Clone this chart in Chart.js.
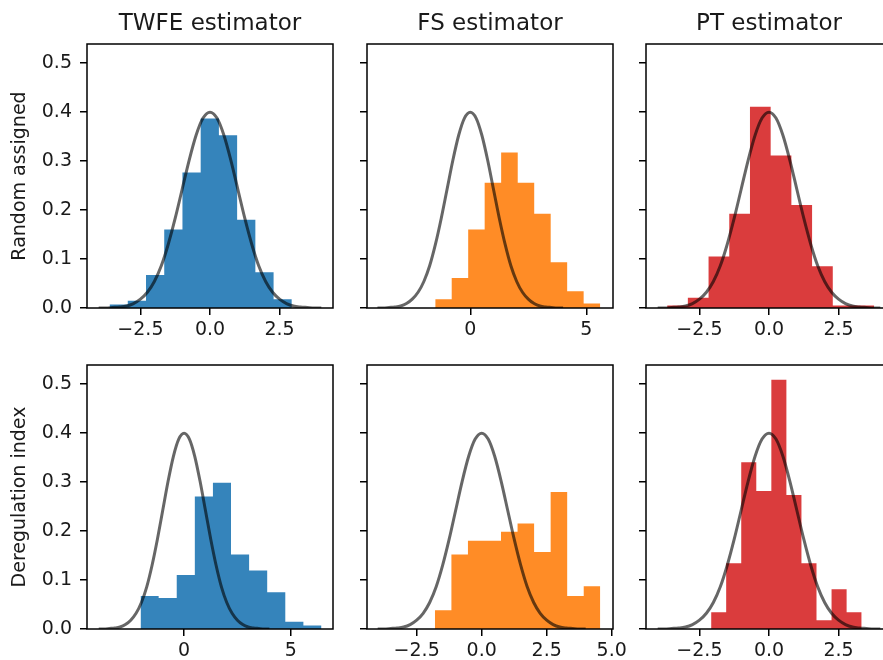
<!DOCTYPE html>
<html>
<head>
<meta charset="utf-8">
<script src="https://cdn.jsdelivr.net/npm/chart.js@4.4.0/dist/chart.umd.min.js"></script>
<style>
  html, body { margin: 0; padding: 0; background: #fff; overflow: hidden; }
  body { width: 883px; height: 660px; position: relative; }
  canvas { position: absolute; }
</style>
</head>
<body>
<canvas id="p0"></canvas>
<canvas id="p1"></canvas>
<canvas id="p2"></canvas>
<canvas id="p3"></canvas>
<canvas id="p4"></canvas>
<canvas id="p5"></canvas>
<script>
// Column titles and row labels
const colTitles = ['TWFE estimator', 'FS estimator', 'PT estimator'];
const rowLabels = ['Random assigned', 'Deregulation index'];

// Standard normal reference curve
const curveX = [-4, -3.75, -3.5, -3.25, -3, -2.75, -2.5, -2.25, -2, -1.75, -1.5, -1.25, -1, -0.75, -0.5, -0.25,
  0, 0.25, 0.5, 0.75, 1, 1.25, 1.5, 1.75, 2, 2.25, 2.5, 2.75, 3, 3.25, 3.5, 3.75, 4];
const curveY = [0.000, 0.000, 0.001, 0.002, 0.004, 0.009, 0.018, 0.032, 0.054, 0.086, 0.130, 0.183, 0.242, 0.301, 0.352, 0.387,
  0.399, 0.387, 0.352, 0.301, 0.242, 0.183, 0.130, 0.086, 0.054, 0.032, 0.018, 0.009, 0.004, 0.002, 0.001, 0.000, 0.000];

// Histogram bin edges and densities, one pair per panel
const twfeRandomEdges = [-3.61, -2.955, -2.30, -1.645, -0.99, -0.335, 0.32, 0.975, 1.63, 2.285, 2.94];
const twfeRandomDens  = [0.007, 0.015, 0.067, 0.160, 0.276, 0.386, 0.352, 0.180, 0.073, 0.018];
const fsRandomEdges   = [-1.51, -0.80, -0.09, 0.62, 1.33, 2.045, 2.755, 3.465, 4.175, 4.885, 5.60];
const fsRandomDens    = [0.018, 0.061, 0.160, 0.255, 0.317, 0.255, 0.192, 0.093, 0.034, 0.009];
const ptRandomEdges   = [-3.66, -2.916, -2.172, -1.428, -0.684, 0.06, 0.804, 1.548, 2.292, 3.036, 3.78];
const ptRandomDens    = [0.005, 0.021, 0.105, 0.192, 0.410, 0.311, 0.210, 0.085, 0.005, 0.005];
const twfeDeregEdges  = [-2.04, -1.192, -0.344, 0.504, 1.352, 2.20, 3.048, 3.896, 4.744, 5.592, 6.44];
const twfeDeregDens   = [0.067, 0.063, 0.110, 0.270, 0.298, 0.152, 0.119, 0.075, 0.015, 0.007];
const fsDeregEdges    = [-1.80, -1.164, -0.528, 0.108, 0.744, 1.38, 2.016, 2.652, 3.288, 3.924, 4.56];
const fsDeregDens     = [0.038, 0.152, 0.180, 0.180, 0.198, 0.215, 0.157, 0.279, 0.067, 0.087];
const ptDeregEdges    = [-2.08, -1.539, -0.998, -0.457, 0.084, 0.625, 1.166, 1.707, 2.248, 2.789, 3.33];
const ptDeregDens     = [0.034, 0.134, 0.340, 0.281, 0.508, 0.273, 0.134, 0.018, 0.081, 0.034];

// Tick values and labels
const yTicks = [0, 0.1, 0.2, 0.3, 0.4, 0.5];
const yTickLabels = ['0.0', '0.1', '0.2', '0.3', '0.4', '0.5'];
const xTicksHalf = [-2.5, 0, 2.5];
const xLabelsHalf = ['\u22122.5', '0.0', '2.5'];
const xTicksFive = [0, 5];
const xLabelsFive = ['0', '5'];
const xTicksFS = [-2.5, 0, 2.5, 5];
const xLabelsFS = ['\u22122.5', '0.0', '2.5', '5.0'];

const BLUE = 'rgba(31,119,180,0.9)';
const ORANGE = 'rgba(255,127,14,0.9)';
const RED = 'rgba(214,39,40,0.9)';
const FONT = 'DejaVu Sans';
const TEXT = '#1a1a1a';

const panels = [
  { row: 0, col: 0, edges: twfeRandomEdges, dens: twfeRandomDens, color: BLUE, xMin: -4.42, xMax: 4.42, xt: xTicksHalf, xl: xLabelsHalf },
  { row: 0, col: 1, edges: fsRandomEdges, dens: fsRandomDens, color: ORANGE, xMin: -4.45, xMax: 6.15, xt: xTicksFive, xl: xLabelsFive },
  { row: 0, col: 2, edges: ptRandomEdges, dens: ptRandomDens, color: RED, xMin: -4.42, xMax: 4.42, xt: xTicksHalf, xl: xLabelsHalf },
  { row: 1, col: 0, edges: twfeDeregEdges, dens: twfeDeregDens, color: BLUE, xMin: -4.55, xMax: 6.98, xt: xTicksFive, xl: xLabelsFive },
  { row: 1, col: 1, edges: fsDeregEdges, dens: fsDeregDens, color: ORANGE, xMin: -4.41, xMax: 5.05, xt: xTicksFS, xl: xLabelsFS },
  { row: 1, col: 2, edges: ptDeregEdges, dens: ptDeregDens, color: RED, xMin: -4.42, xMax: 4.42, xt: xTicksHalf, xl: xLabelsHalf }
];

// layout of the figure (pixels)
const colLeft = [87, 367, 646];
const rowTop = [44, 365];
const AXIS_W = 87, TOP_SPACE = 44, PLOT_W = 246, PLOT_H = 264, X_AXIS_H = 50, PAD_R = 20;

// box around each plot area (matplotlib spines)
const framePlugin = {
  id: 'frame',
  afterDraw(chart) {
    const { ctx, chartArea: a } = chart;
    ctx.save();
    ctx.strokeStyle = '#000';
    ctx.lineWidth = 1.5;
    ctx.strokeRect(a.left, a.top, a.right - a.left, a.bottom - a.top);
    ctx.restore();
  }
};

function histPoints(edges, dens) {
  const pts = [{ x: edges[0], y: 0 }];
  dens.forEach((h, i) => {
    pts.push({ x: edges[i], y: h });
    pts.push({ x: edges[i + 1], y: h });
  });
  pts.push({ x: edges[edges.length - 1], y: 0 });
  return pts;
}

panels.forEach((p, idx) => {
  const canvas = document.getElementById('p' + idx);
  const w = AXIS_W + PLOT_W + PAD_R;
  const h = TOP_SPACE + PLOT_H + X_AXIS_H;
  canvas.width = w;
  canvas.height = h;
  canvas.style.left = (colLeft[p.col] - AXIS_W) + 'px';
  canvas.style.top = (rowTop[p.row] - TOP_SPACE) + 'px';

  const showTitle = p.row === 0;
  const firstCol = p.col === 0;

  new Chart(canvas.getContext('2d'), {
    type: 'scatter',
    data: {
      datasets: [{
        data: curveX.map((x, i) => ({ x: x, y: curveY[i] })),
        showLine: true,
        borderColor: 'rgba(0,0,0,0.6)',
        borderWidth: 3,
        pointRadius: 0,
        cubicInterpolationMode: 'monotone',
        fill: false,
        order: 0
      }, {
        data: histPoints(p.edges, p.dens),
        showLine: true,
        borderWidth: 0,
        borderColor: 'rgba(0,0,0,0)',
        backgroundColor: p.color,
        pointRadius: 0,
        tension: 0,
        fill: 'origin',
        order: 1
      }]
    },
    options: {
      responsive: false,
      animation: false,
      devicePixelRatio: 1,
      layout: { padding: { top: showTitle ? 0 : TOP_SPACE, right: PAD_R, bottom: 0, left: 0 } },
      plugins: {
        legend: { display: false },
        tooltip: { enabled: false },
        title: {
          display: showTitle,
          text: colTitles[p.col],
          fullSize: false,
          color: TEXT,
          font: { family: FONT, size: 23, weight: 'normal' },
          padding: { top: 10, bottom: 6.4 }
        }
      },
      scales: {
        x: {
          type: 'linear',
          min: p.xMin,
          max: p.xMax,
          afterBuildTicks: s => { s.ticks = p.xt.map(v => ({ value: v })); },
          afterFit: s => { s.height = X_AXIS_H; s.paddingLeft = 0; s.paddingRight = 0; },
          border: { display: false },
          grid: { drawOnChartArea: false, drawTicks: true, tickLength: 7, lineWidth: 1.5, tickColor: '#000' },
          ticks: {
            autoSkip: false, maxRotation: 0, padding: 4, color: TEXT,
            font: { family: FONT, size: 19 },
            callback: (v, i) => p.xl[i]
          }
        },
        y: {
          type: 'linear',
          min: 0,
          max: 0.538,
          afterBuildTicks: s => { s.ticks = yTicks.map(v => ({ value: v })); },
          afterFit: s => { s.width = AXIS_W; s.paddingTop = 0; s.paddingBottom = 0; },
          border: { display: false },
          grid: { drawOnChartArea: false, drawTicks: true, tickLength: 7, lineWidth: 1.5, tickColor: '#000' },
          ticks: {
            display: firstCol, padding: 8, color: TEXT,
            font: { family: FONT, size: 19 },
            callback: (v, i) => yTickLabels[i]
          },
          title: {
            display: firstCol,
            text: rowLabels[p.row],
            color: TEXT,
            font: { family: FONT, size: 19 },
            padding: { top: 9, bottom: 0 }
          }
        }
      }
    },
    plugins: [framePlugin]
  });
});
</script>
</body>
</html>
